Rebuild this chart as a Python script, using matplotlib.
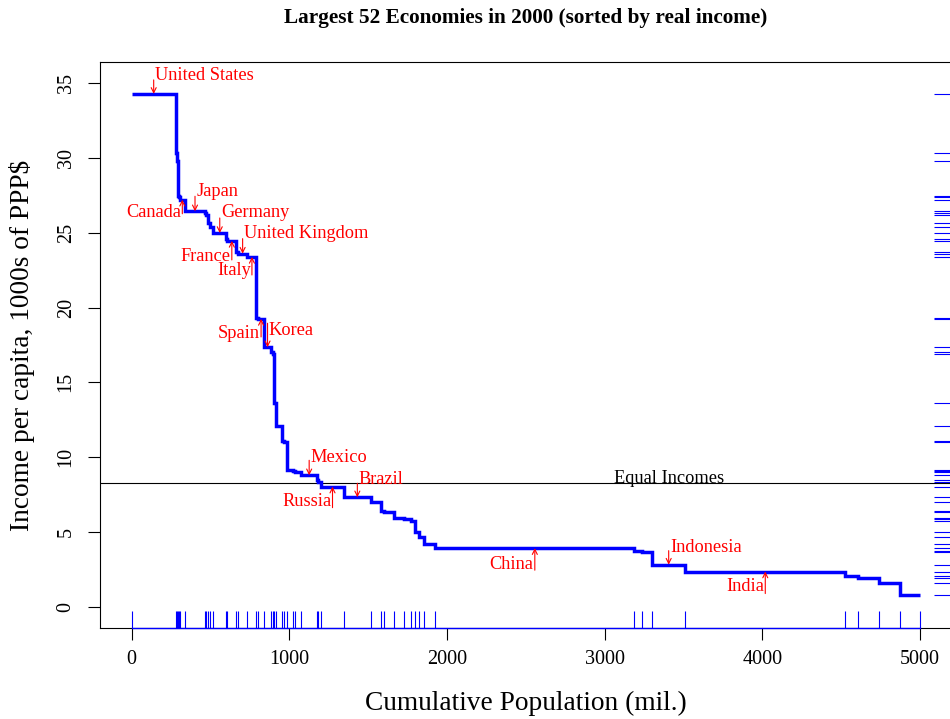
import matplotlib
matplotlib.use("Agg")
import matplotlib.pyplot as plt
import numpy as np

plt.rcParams['font.family'] = ['Liberation Serif', 'DejaVu Serif']

# population (mil.) of the 52 largest economies, sorted by real income per capita
population = [281, 7, 5, 6, 7, 32, 129, 8, 11, 12, 19, 85, 6, 56, 10, 61, 57,
              13, 33, 49, 11, 8, 9, 41, 10, 18, 42, 9, 42, 99, 7, 19, 145, 170,
              65, 21, 64, 63, 42, 23, 30, 27, 74, 1263, 49, 64, 209, 1016, 78,
              137, 131, 127]
# income per capita, 1000s of PPP$
income = [34.27, 30.35, 29.77, 27.48, 27.37, 27.2, 26.43, 26.3, 26.17, 25.65, 25.41,
          24.98, 24.58, 24.45, 23.73, 23.6, 23.38, 19.33, 19.24, 17.35, 17.0, 16.9,
          13.61, 12.1, 11.1, 11.0, 9.18, 9.1, 9.0, 8.8, 8.5, 8.35, 8.04, 7.33, 7.04,
          6.4, 6.35, 5.92, 5.88, 5.75, 5.03, 4.7, 4.21, 3.93, 3.72, 3.66, 2.83, 2.37,
          2.05, 1.96, 1.62, 0.78]

# labelled countries (index into the sorted lists)
names = ["United States", "Canada", "Japan", "Germany", "France", "United Kingdom",
         "Italy", "Spain", "Korea", "Mexico", "Russia", "Brazil", "China",
         "Indonesia", "India"]
name_idx = [0, 5, 6, 11, 13, 15, 16, 18, 19, 29, 32, 33, 43, 46, 47]

# label layout: +1 label above (arrow down), -1 label below (arrow up); lengths in px
side = [1, -1, 1, 1, -1, 1, -1, -1, 1, 1, -1, 1, -1, 1, -1]
arrow_px = [14, 14, 15, 15, 19, 15, 18, 18, 24, 15, 21, 14, 22, 14, 22]
text_px = [18, 13, 20, 20, 16, 20, 14, 15, 17, 18, 15, 18, 16, 17, 15]

pop = np.array(population, float)
inc = np.array(income, float)
edges = np.concatenate([[0], np.cumsum(pop)])
mids = (edges[:-1] + edges[1:]) / 2
equal = (pop * inc).sum() / pop.sum()

fig = plt.figure(figsize=(9.5, 7.19), dpi=100)
ax = fig.add_axes([100 / 950, 91 / 719, 851.5 / 950, 566 / 719])
ax.set_xlim(-200, 5200)
ax.set_ylim(-1.4, 36.4)

blue = '#0000FF'
red = '#FF0000'

ax.stairs(inc, edges, baseline=None, color=blue, lw=2.5, zorder=3)

# rugs
ax.vlines(edges, 0, 0.03, transform=ax.get_xaxis_transform(), color=blue, lw=0.8)
ax.plot([edges[0], edges[-1]], [0, 0], transform=ax.get_xaxis_transform(),
        color=blue, lw=1.0, clip_on=False, zorder=4)
ax.hlines(inc, 0.98, 1.0, transform=ax.get_yaxis_transform(), color=blue, lw=0.8)

ax.axhline(equal, color='black', lw=0.8)
ax.text(3410, equal, "Equal Incomes", ha='center', va='baseline', fontsize=13.2)

ypx = 1 / 14.97
xpx = 1 / 0.1578
for nm, i, s, a, t in zip(names, name_idx, side, arrow_px, text_px):
    x, y = mids[i], inc[i]
    ax.annotate('', xy=(x, y), xytext=(x, y + s * a * ypx),
                arrowprops=dict(arrowstyle='->', color=red, lw=0.8,
                                shrinkA=0, shrinkB=0, mutation_scale=9))
    if s > 0:
        ax.text(x + 1.2 * xpx, y + t * ypx, nm, ha='left', va='center',
                color=red, fontsize=13.2)
    else:
        ax.text(x - 1.2 * xpx, y - t * ypx, nm, ha='right', va='center',
                color=red, fontsize=13.2)

ax.set_xticks(range(0, 5001, 1000))
ax.set_yticks(range(0, 36, 5))
ax.tick_params(direction='out', length=8.5, width=0.8, labelsize=14.5, pad=7)
ax.tick_params(axis='y', labelrotation=90, pad=9)
for lab in ax.get_yticklabels():
    lab.set_va('center')
for sp in ax.spines.values():
    sp.set_linewidth(0.8)

fig.text(526 / 950, 1 - 703 / 719, "Cumulative Population (mil.)",
         ha='center', va='center', fontsize=19.7)
fig.text(22 / 950, 1 - 345 / 719, "Income per capita, 1000s of PPP$",
         ha='center', va='center', rotation=90, fontsize=19.7)
fig.text(526 / 950, 1 - 18 / 719,
         "Largest 52 Economies in 2000 (sorted by real income)",
         ha='center', va='center', fontsize=15.3, fontweight='bold')

fig.savefig("out.png", dpi=100)
